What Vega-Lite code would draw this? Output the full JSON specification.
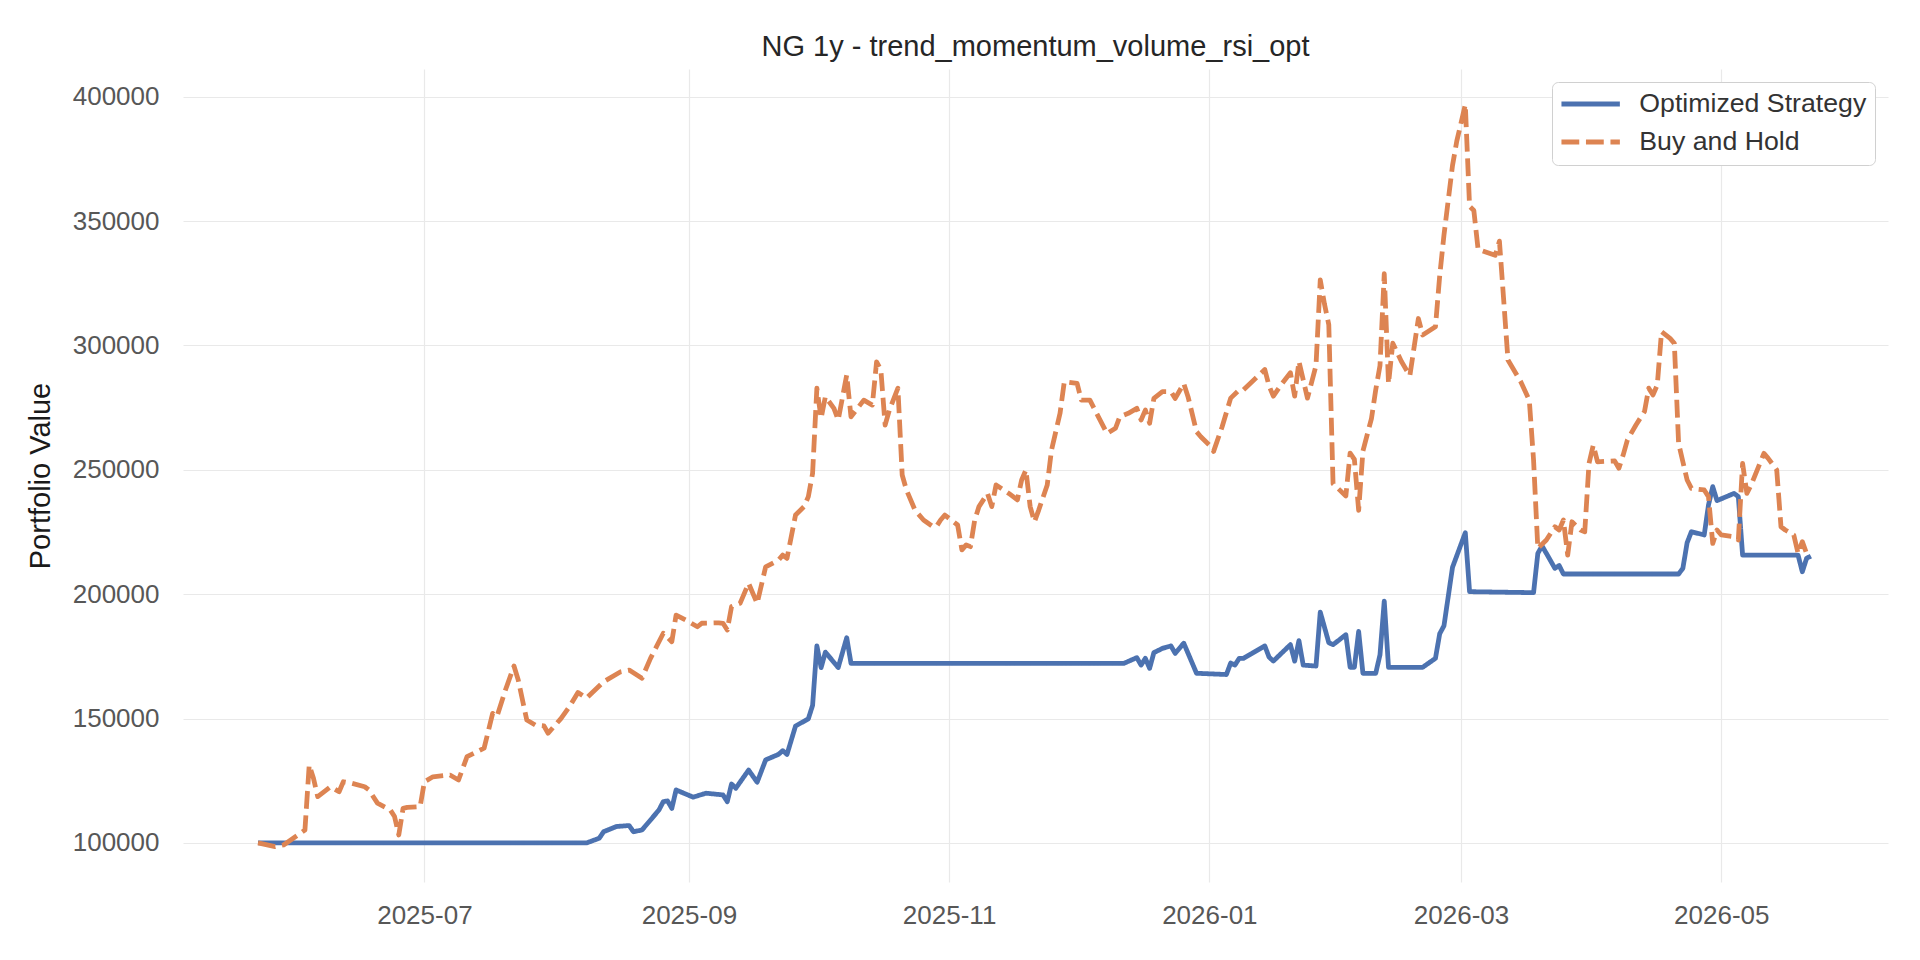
{
  "$schema": "https://vega.github.io/schema/vega-lite/v6.json",
  "description": "Portfolio value of the optimized strategy against buy and hold, NG 1y.",
  "autosize": {"type": "none"},
  "width": 1705,
  "height": 813,
  "padding": {"left": 183, "top": 69, "right": 32, "bottom": 78},
  "background": "#ffffff",
  "title": {
    "text": "NG 1y - trend_momentum_volume_rsi_opt",
    "font": "Liberation Sans",
    "fontSize": 29,
    "fontWeight": "normal",
    "color": "#262626",
    "anchor": "middle",
    "frame": "group",
    "baseline": "alphabetic",
    "offset": 16,
    "dy": 32
  },
  "data": {
    "values": [
      {"date": "2025-05-23", "series": "Optimized Strategy", "value": 100000},
      {"date": "2025-08-08", "series": "Optimized Strategy", "value": 100000},
      {"date": "2025-08-11", "series": "Optimized Strategy", "value": 101900},
      {"date": "2025-08-12", "series": "Optimized Strategy", "value": 104500},
      {"date": "2025-08-15", "series": "Optimized Strategy", "value": 106600},
      {"date": "2025-08-18", "series": "Optimized Strategy", "value": 107000},
      {"date": "2025-08-19", "series": "Optimized Strategy", "value": 104500},
      {"date": "2025-08-21", "series": "Optimized Strategy", "value": 105200},
      {"date": "2025-08-23", "series": "Optimized Strategy", "value": 109200},
      {"date": "2025-08-25", "series": "Optimized Strategy", "value": 113300},
      {"date": "2025-08-26", "series": "Optimized Strategy", "value": 116600},
      {"date": "2025-08-27", "series": "Optimized Strategy", "value": 116900},
      {"date": "2025-08-28", "series": "Optimized Strategy", "value": 113900},
      {"date": "2025-08-29", "series": "Optimized Strategy", "value": 121300},
      {"date": "2025-09-02", "series": "Optimized Strategy", "value": 118400},
      {"date": "2025-09-05", "series": "Optimized Strategy", "value": 120000},
      {"date": "2025-09-09", "series": "Optimized Strategy", "value": 119300},
      {"date": "2025-09-10", "series": "Optimized Strategy", "value": 116600},
      {"date": "2025-09-11", "series": "Optimized Strategy", "value": 123700},
      {"date": "2025-09-12", "series": "Optimized Strategy", "value": 122000},
      {"date": "2025-09-15", "series": "Optimized Strategy", "value": 129300},
      {"date": "2025-09-17", "series": "Optimized Strategy", "value": 124400},
      {"date": "2025-09-19", "series": "Optimized Strategy", "value": 133400},
      {"date": "2025-09-22", "series": "Optimized Strategy", "value": 135600},
      {"date": "2025-09-23", "series": "Optimized Strategy", "value": 137100},
      {"date": "2025-09-24", "series": "Optimized Strategy", "value": 135600},
      {"date": "2025-09-26", "series": "Optimized Strategy", "value": 147000},
      {"date": "2025-09-29", "series": "Optimized Strategy", "value": 149900},
      {"date": "2025-09-30", "series": "Optimized Strategy", "value": 155300},
      {"date": "2025-10-01", "series": "Optimized Strategy", "value": 179200},
      {"date": "2025-10-02", "series": "Optimized Strategy", "value": 170500},
      {"date": "2025-10-03", "series": "Optimized Strategy", "value": 176700},
      {"date": "2025-10-06", "series": "Optimized Strategy", "value": 170500},
      {"date": "2025-10-08", "series": "Optimized Strategy", "value": 182500},
      {"date": "2025-10-09", "series": "Optimized Strategy", "value": 172200},
      {"date": "2025-12-12", "series": "Optimized Strategy", "value": 172200},
      {"date": "2025-12-15", "series": "Optimized Strategy", "value": 174500},
      {"date": "2025-12-16", "series": "Optimized Strategy", "value": 171500},
      {"date": "2025-12-17", "series": "Optimized Strategy", "value": 174200},
      {"date": "2025-12-18", "series": "Optimized Strategy", "value": 170200},
      {"date": "2025-12-19", "series": "Optimized Strategy", "value": 176500},
      {"date": "2025-12-21", "series": "Optimized Strategy", "value": 178200},
      {"date": "2025-12-23", "series": "Optimized Strategy", "value": 179200},
      {"date": "2025-12-24", "series": "Optimized Strategy", "value": 176200},
      {"date": "2025-12-26", "series": "Optimized Strategy", "value": 180300},
      {"date": "2025-12-29", "series": "Optimized Strategy", "value": 168200},
      {"date": "2026-01-05", "series": "Optimized Strategy", "value": 167700},
      {"date": "2026-01-06", "series": "Optimized Strategy", "value": 172300},
      {"date": "2026-01-07", "series": "Optimized Strategy", "value": 171500},
      {"date": "2026-01-08", "series": "Optimized Strategy", "value": 174200},
      {"date": "2026-01-09", "series": "Optimized Strategy", "value": 174200},
      {"date": "2026-01-14", "series": "Optimized Strategy", "value": 179200},
      {"date": "2026-01-15", "series": "Optimized Strategy", "value": 174700},
      {"date": "2026-01-16", "series": "Optimized Strategy", "value": 173100},
      {"date": "2026-01-20", "series": "Optimized Strategy", "value": 179700},
      {"date": "2026-01-21", "series": "Optimized Strategy", "value": 173100},
      {"date": "2026-01-22", "series": "Optimized Strategy", "value": 181300},
      {"date": "2026-01-23", "series": "Optimized Strategy", "value": 171500},
      {"date": "2026-01-26", "series": "Optimized Strategy", "value": 171100},
      {"date": "2026-01-27", "series": "Optimized Strategy", "value": 192800},
      {"date": "2026-01-29", "series": "Optimized Strategy", "value": 180500},
      {"date": "2026-01-30", "series": "Optimized Strategy", "value": 179700},
      {"date": "2026-02-02", "series": "Optimized Strategy", "value": 183700},
      {"date": "2026-02-03", "series": "Optimized Strategy", "value": 170600},
      {"date": "2026-02-04", "series": "Optimized Strategy", "value": 170600},
      {"date": "2026-02-05", "series": "Optimized Strategy", "value": 185000},
      {"date": "2026-02-06", "series": "Optimized Strategy", "value": 168200},
      {"date": "2026-02-09", "series": "Optimized Strategy", "value": 168200},
      {"date": "2026-02-10", "series": "Optimized Strategy", "value": 175600},
      {"date": "2026-02-11", "series": "Optimized Strategy", "value": 197200},
      {"date": "2026-02-12", "series": "Optimized Strategy", "value": 170600},
      {"date": "2026-02-20", "series": "Optimized Strategy", "value": 170600},
      {"date": "2026-02-23", "series": "Optimized Strategy", "value": 174200},
      {"date": "2026-02-24", "series": "Optimized Strategy", "value": 184100},
      {"date": "2026-02-25", "series": "Optimized Strategy", "value": 187300},
      {"date": "2026-02-27", "series": "Optimized Strategy", "value": 210800},
      {"date": "2026-03-02", "series": "Optimized Strategy", "value": 224700},
      {"date": "2026-03-03", "series": "Optimized Strategy", "value": 201000},
      {"date": "2026-03-18", "series": "Optimized Strategy", "value": 200600},
      {"date": "2026-03-19", "series": "Optimized Strategy", "value": 216400},
      {"date": "2026-03-20", "series": "Optimized Strategy", "value": 219400},
      {"date": "2026-03-23", "series": "Optimized Strategy", "value": 210400},
      {"date": "2026-03-24", "series": "Optimized Strategy", "value": 211500},
      {"date": "2026-03-25", "series": "Optimized Strategy", "value": 208100},
      {"date": "2026-04-21", "series": "Optimized Strategy", "value": 208100},
      {"date": "2026-04-22", "series": "Optimized Strategy", "value": 210400},
      {"date": "2026-04-23", "series": "Optimized Strategy", "value": 220700},
      {"date": "2026-04-24", "series": "Optimized Strategy", "value": 225100},
      {"date": "2026-04-27", "series": "Optimized Strategy", "value": 223800},
      {"date": "2026-04-28", "series": "Optimized Strategy", "value": 235800},
      {"date": "2026-04-29", "series": "Optimized Strategy", "value": 243200},
      {"date": "2026-04-30", "series": "Optimized Strategy", "value": 237600},
      {"date": "2026-05-04", "series": "Optimized Strategy", "value": 240500},
      {"date": "2026-05-05", "series": "Optimized Strategy", "value": 239200},
      {"date": "2026-05-06", "series": "Optimized Strategy", "value": 215700},
      {"date": "2026-05-19", "series": "Optimized Strategy", "value": 215700},
      {"date": "2026-05-20", "series": "Optimized Strategy", "value": 209000},
      {"date": "2026-05-21", "series": "Optimized Strategy", "value": 214400},
      {"date": "2026-05-22", "series": "Optimized Strategy", "value": 215300},
      {"date": "2025-05-23", "series": "Buy and Hold", "value": 100000},
      {"date": "2025-05-27", "series": "Buy and Hold", "value": 98500},
      {"date": "2025-05-29", "series": "Buy and Hold", "value": 99200},
      {"date": "2025-06-03", "series": "Buy and Hold", "value": 105200},
      {"date": "2025-06-04", "series": "Buy and Hold", "value": 131300},
      {"date": "2025-06-05", "series": "Buy and Hold", "value": 126000},
      {"date": "2025-06-06", "series": "Buy and Hold", "value": 118600},
      {"date": "2025-06-09", "series": "Buy and Hold", "value": 122600},
      {"date": "2025-06-11", "series": "Buy and Hold", "value": 120600},
      {"date": "2025-06-12", "series": "Buy and Hold", "value": 124600},
      {"date": "2025-06-14", "series": "Buy and Hold", "value": 124000},
      {"date": "2025-06-17", "series": "Buy and Hold", "value": 122600},
      {"date": "2025-06-18", "series": "Buy and Hold", "value": 121300},
      {"date": "2025-06-20", "series": "Buy and Hold", "value": 116000},
      {"date": "2025-06-23", "series": "Buy and Hold", "value": 113300},
      {"date": "2025-06-24", "series": "Buy and Hold", "value": 110600},
      {"date": "2025-06-25", "series": "Buy and Hold", "value": 103200},
      {"date": "2025-06-26", "series": "Buy and Hold", "value": 113900},
      {"date": "2025-06-27", "series": "Buy and Hold", "value": 114300},
      {"date": "2025-06-30", "series": "Buy and Hold", "value": 114600},
      {"date": "2025-07-01", "series": "Buy and Hold", "value": 124600},
      {"date": "2025-07-03", "series": "Buy and Hold", "value": 126600},
      {"date": "2025-07-07", "series": "Buy and Hold", "value": 127300},
      {"date": "2025-07-09", "series": "Buy and Hold", "value": 125300},
      {"date": "2025-07-11", "series": "Buy and Hold", "value": 134700},
      {"date": "2025-07-15", "series": "Buy and Hold", "value": 138100},
      {"date": "2025-07-17", "series": "Buy and Hold", "value": 152100},
      {"date": "2025-07-18", "series": "Buy and Hold", "value": 150800},
      {"date": "2025-07-20", "series": "Buy and Hold", "value": 161500},
      {"date": "2025-07-22", "series": "Buy and Hold", "value": 171100},
      {"date": "2025-07-23", "series": "Buy and Hold", "value": 165500},
      {"date": "2025-07-25", "series": "Buy and Hold", "value": 149400},
      {"date": "2025-07-27", "series": "Buy and Hold", "value": 147400},
      {"date": "2025-07-29", "series": "Buy and Hold", "value": 147100},
      {"date": "2025-07-30", "series": "Buy and Hold", "value": 144100},
      {"date": "2025-08-02", "series": "Buy and Hold", "value": 150000},
      {"date": "2025-08-04", "series": "Buy and Hold", "value": 154800},
      {"date": "2025-08-06", "series": "Buy and Hold", "value": 160500},
      {"date": "2025-08-08", "series": "Buy and Hold", "value": 158200},
      {"date": "2025-08-12", "series": "Buy and Hold", "value": 164800},
      {"date": "2025-08-16", "series": "Buy and Hold", "value": 168800},
      {"date": "2025-08-18", "series": "Buy and Hold", "value": 169500},
      {"date": "2025-08-21", "series": "Buy and Hold", "value": 166200},
      {"date": "2025-08-23", "series": "Buy and Hold", "value": 174200},
      {"date": "2025-08-26", "series": "Buy and Hold", "value": 184300},
      {"date": "2025-08-28", "series": "Buy and Hold", "value": 180900},
      {"date": "2025-08-29", "series": "Buy and Hold", "value": 191600},
      {"date": "2025-09-01", "series": "Buy and Hold", "value": 188900},
      {"date": "2025-09-03", "series": "Buy and Hold", "value": 186900},
      {"date": "2025-09-04", "series": "Buy and Hold", "value": 188300},
      {"date": "2025-09-08", "series": "Buy and Hold", "value": 188500},
      {"date": "2025-09-09", "series": "Buy and Hold", "value": 188300},
      {"date": "2025-09-10", "series": "Buy and Hold", "value": 185600},
      {"date": "2025-09-11", "series": "Buy and Hold", "value": 195000},
      {"date": "2025-09-13", "series": "Buy and Hold", "value": 196300},
      {"date": "2025-09-15", "series": "Buy and Hold", "value": 204400},
      {"date": "2025-09-17", "series": "Buy and Hold", "value": 196300},
      {"date": "2025-09-19", "series": "Buy and Hold", "value": 211000},
      {"date": "2025-09-22", "series": "Buy and Hold", "value": 213700},
      {"date": "2025-09-23", "series": "Buy and Hold", "value": 215700},
      {"date": "2025-09-24", "series": "Buy and Hold", "value": 214400},
      {"date": "2025-09-26", "series": "Buy and Hold", "value": 231800},
      {"date": "2025-09-28", "series": "Buy and Hold", "value": 235200},
      {"date": "2025-09-29", "series": "Buy and Hold", "value": 239200},
      {"date": "2025-09-30", "series": "Buy and Hold", "value": 248600},
      {"date": "2025-10-01", "series": "Buy and Hold", "value": 282800},
      {"date": "2025-10-02", "series": "Buy and Hold", "value": 270700},
      {"date": "2025-10-03", "series": "Buy and Hold", "value": 279400},
      {"date": "2025-10-05", "series": "Buy and Hold", "value": 274700},
      {"date": "2025-10-06", "series": "Buy and Hold", "value": 270000},
      {"date": "2025-10-08", "series": "Buy and Hold", "value": 288100},
      {"date": "2025-10-09", "series": "Buy and Hold", "value": 271300},
      {"date": "2025-10-12", "series": "Buy and Hold", "value": 278000},
      {"date": "2025-10-14", "series": "Buy and Hold", "value": 276000},
      {"date": "2025-10-15", "series": "Buy and Hold", "value": 293400},
      {"date": "2025-10-16", "series": "Buy and Hold", "value": 290100},
      {"date": "2025-10-17", "series": "Buy and Hold", "value": 268000},
      {"date": "2025-10-18", "series": "Buy and Hold", "value": 274000},
      {"date": "2025-10-20", "series": "Buy and Hold", "value": 282800},
      {"date": "2025-10-21", "series": "Buy and Hold", "value": 247900},
      {"date": "2025-10-22", "series": "Buy and Hold", "value": 241900},
      {"date": "2025-10-24", "series": "Buy and Hold", "value": 233800},
      {"date": "2025-10-26", "series": "Buy and Hold", "value": 229800},
      {"date": "2025-10-28", "series": "Buy and Hold", "value": 227400},
      {"date": "2025-10-29", "series": "Buy and Hold", "value": 227100},
      {"date": "2025-10-30", "series": "Buy and Hold", "value": 229800},
      {"date": "2025-10-31", "series": "Buy and Hold", "value": 231800},
      {"date": "2025-11-03", "series": "Buy and Hold", "value": 227800},
      {"date": "2025-11-04", "series": "Buy and Hold", "value": 217800},
      {"date": "2025-11-05", "series": "Buy and Hold", "value": 219800},
      {"date": "2025-11-06", "series": "Buy and Hold", "value": 219100},
      {"date": "2025-11-07", "series": "Buy and Hold", "value": 229800},
      {"date": "2025-11-08", "series": "Buy and Hold", "value": 235200},
      {"date": "2025-11-10", "series": "Buy and Hold", "value": 240500},
      {"date": "2025-11-11", "series": "Buy and Hold", "value": 235200},
      {"date": "2025-11-12", "series": "Buy and Hold", "value": 243900},
      {"date": "2025-11-15", "series": "Buy and Hold", "value": 240500},
      {"date": "2025-11-17", "series": "Buy and Hold", "value": 237900},
      {"date": "2025-11-18", "series": "Buy and Hold", "value": 245900},
      {"date": "2025-11-19", "series": "Buy and Hold", "value": 249900},
      {"date": "2025-11-20", "series": "Buy and Hold", "value": 235200},
      {"date": "2025-11-21", "series": "Buy and Hold", "value": 229100},
      {"date": "2025-11-22", "series": "Buy and Hold", "value": 233800},
      {"date": "2025-11-24", "series": "Buy and Hold", "value": 243900},
      {"date": "2025-11-25", "series": "Buy and Hold", "value": 257900},
      {"date": "2025-11-27", "series": "Buy and Hold", "value": 272700},
      {"date": "2025-11-28", "series": "Buy and Hold", "value": 285400},
      {"date": "2025-12-01", "series": "Buy and Hold", "value": 284700},
      {"date": "2025-12-02", "series": "Buy and Hold", "value": 278000},
      {"date": "2025-12-04", "series": "Buy and Hold", "value": 278000},
      {"date": "2025-12-06", "series": "Buy and Hold", "value": 271300},
      {"date": "2025-12-08", "series": "Buy and Hold", "value": 264600},
      {"date": "2025-12-10", "series": "Buy and Hold", "value": 266700},
      {"date": "2025-12-11", "series": "Buy and Hold", "value": 271300},
      {"date": "2025-12-13", "series": "Buy and Hold", "value": 272700},
      {"date": "2025-12-15", "series": "Buy and Hold", "value": 274700},
      {"date": "2025-12-16", "series": "Buy and Hold", "value": 270000},
      {"date": "2025-12-17", "series": "Buy and Hold", "value": 274000},
      {"date": "2025-12-18", "series": "Buy and Hold", "value": 268700},
      {"date": "2025-12-19", "series": "Buy and Hold", "value": 278700},
      {"date": "2025-12-21", "series": "Buy and Hold", "value": 281400},
      {"date": "2025-12-23", "series": "Buy and Hold", "value": 281400},
      {"date": "2025-12-24", "series": "Buy and Hold", "value": 278700},
      {"date": "2025-12-26", "series": "Buy and Hold", "value": 284700},
      {"date": "2025-12-27", "series": "Buy and Hold", "value": 279400},
      {"date": "2025-12-29", "series": "Buy and Hold", "value": 265300},
      {"date": "2025-12-30", "series": "Buy and Hold", "value": 263300},
      {"date": "2026-01-01", "series": "Buy and Hold", "value": 259900},
      {"date": "2026-01-02", "series": "Buy and Hold", "value": 257400},
      {"date": "2026-01-04", "series": "Buy and Hold", "value": 267300},
      {"date": "2026-01-06", "series": "Buy and Hold", "value": 278800},
      {"date": "2026-01-08", "series": "Buy and Hold", "value": 282100},
      {"date": "2026-01-09", "series": "Buy and Hold", "value": 282100},
      {"date": "2026-01-11", "series": "Buy and Hold", "value": 285400},
      {"date": "2026-01-14", "series": "Buy and Hold", "value": 290300},
      {"date": "2026-01-15", "series": "Buy and Hold", "value": 283700},
      {"date": "2026-01-16", "series": "Buy and Hold", "value": 279600},
      {"date": "2026-01-18", "series": "Buy and Hold", "value": 284600},
      {"date": "2026-01-20", "series": "Buy and Hold", "value": 289000},
      {"date": "2026-01-21", "series": "Buy and Hold", "value": 279600},
      {"date": "2026-01-22", "series": "Buy and Hold", "value": 293600},
      {"date": "2026-01-24", "series": "Buy and Hold", "value": 278800},
      {"date": "2026-01-26", "series": "Buy and Hold", "value": 291900},
      {"date": "2026-01-27", "series": "Buy and Hold", "value": 326300},
      {"date": "2026-01-28", "series": "Buy and Hold", "value": 316500},
      {"date": "2026-01-29", "series": "Buy and Hold", "value": 308300},
      {"date": "2026-01-30", "series": "Buy and Hold", "value": 244400},
      {"date": "2026-02-02", "series": "Buy and Hold", "value": 239500},
      {"date": "2026-02-03", "series": "Buy and Hold", "value": 256700},
      {"date": "2026-02-04", "series": "Buy and Hold", "value": 254200},
      {"date": "2026-02-05", "series": "Buy and Hold", "value": 233700},
      {"date": "2026-02-06", "series": "Buy and Hold", "value": 257500},
      {"date": "2026-02-08", "series": "Buy and Hold", "value": 270600},
      {"date": "2026-02-09", "series": "Buy and Hold", "value": 282100},
      {"date": "2026-02-10", "series": "Buy and Hold", "value": 291900},
      {"date": "2026-02-11", "series": "Buy and Hold", "value": 328800},
      {"date": "2026-02-12", "series": "Buy and Hold", "value": 284600},
      {"date": "2026-02-13", "series": "Buy and Hold", "value": 300900},
      {"date": "2026-02-15", "series": "Buy and Hold", "value": 293600},
      {"date": "2026-02-17", "series": "Buy and Hold", "value": 287800},
      {"date": "2026-02-19", "series": "Buy and Hold", "value": 310800},
      {"date": "2026-02-20", "series": "Buy and Hold", "value": 304200},
      {"date": "2026-02-23", "series": "Buy and Hold", "value": 307500},
      {"date": "2026-02-24", "series": "Buy and Hold", "value": 328000},
      {"date": "2026-02-25", "series": "Buy and Hold", "value": 344400},
      {"date": "2026-02-27", "series": "Buy and Hold", "value": 372300},
      {"date": "2026-02-28", "series": "Buy and Hold", "value": 382100},
      {"date": "2026-03-02", "series": "Buy and Hold", "value": 396800},
      {"date": "2026-03-03", "series": "Buy and Hold", "value": 355900},
      {"date": "2026-03-04", "series": "Buy and Hold", "value": 354200},
      {"date": "2026-03-05", "series": "Buy and Hold", "value": 338600},
      {"date": "2026-03-09", "series": "Buy and Hold", "value": 336200},
      {"date": "2026-03-10", "series": "Buy and Hold", "value": 341900},
      {"date": "2026-03-11", "series": "Buy and Hold", "value": 318200},
      {"date": "2026-03-12", "series": "Buy and Hold", "value": 294100},
      {"date": "2026-03-15", "series": "Buy and Hold", "value": 285400},
      {"date": "2026-03-17", "series": "Buy and Hold", "value": 278000},
      {"date": "2026-03-18", "series": "Buy and Hold", "value": 253900},
      {"date": "2026-03-19", "series": "Buy and Hold", "value": 218400},
      {"date": "2026-03-21", "series": "Buy and Hold", "value": 221800},
      {"date": "2026-03-23", "series": "Buy and Hold", "value": 227100},
      {"date": "2026-03-24", "series": "Buy and Hold", "value": 225800},
      {"date": "2026-03-25", "series": "Buy and Hold", "value": 229800},
      {"date": "2026-03-26", "series": "Buy and Hold", "value": 215700},
      {"date": "2026-03-27", "series": "Buy and Hold", "value": 229100},
      {"date": "2026-03-29", "series": "Buy and Hold", "value": 225800},
      {"date": "2026-03-30", "series": "Buy and Hold", "value": 225100},
      {"date": "2026-03-31", "series": "Buy and Hold", "value": 252600},
      {"date": "2026-04-01", "series": "Buy and Hold", "value": 259900},
      {"date": "2026-04-02", "series": "Buy and Hold", "value": 253200},
      {"date": "2026-04-06", "series": "Buy and Hold", "value": 253600},
      {"date": "2026-04-07", "series": "Buy and Hold", "value": 250600},
      {"date": "2026-04-08", "series": "Buy and Hold", "value": 255900},
      {"date": "2026-04-09", "series": "Buy and Hold", "value": 262000},
      {"date": "2026-04-11", "series": "Buy and Hold", "value": 268000},
      {"date": "2026-04-13", "series": "Buy and Hold", "value": 273400},
      {"date": "2026-04-14", "series": "Buy and Hold", "value": 282800},
      {"date": "2026-04-15", "series": "Buy and Hold", "value": 280100},
      {"date": "2026-04-16", "series": "Buy and Hold", "value": 284100},
      {"date": "2026-04-17", "series": "Buy and Hold", "value": 305500},
      {"date": "2026-04-19", "series": "Buy and Hold", "value": 302800},
      {"date": "2026-04-20", "series": "Buy and Hold", "value": 300800},
      {"date": "2026-04-21", "series": "Buy and Hold", "value": 260600},
      {"date": "2026-04-23", "series": "Buy and Hold", "value": 245900},
      {"date": "2026-04-24", "series": "Buy and Hold", "value": 242500},
      {"date": "2026-04-27", "series": "Buy and Hold", "value": 241900},
      {"date": "2026-04-28", "series": "Buy and Hold", "value": 239200},
      {"date": "2026-04-29", "series": "Buy and Hold", "value": 220400},
      {"date": "2026-04-30", "series": "Buy and Hold", "value": 225800},
      {"date": "2026-05-01", "series": "Buy and Hold", "value": 223800},
      {"date": "2026-05-04", "series": "Buy and Hold", "value": 223100},
      {"date": "2026-05-05", "series": "Buy and Hold", "value": 221800},
      {"date": "2026-05-06", "series": "Buy and Hold", "value": 252600},
      {"date": "2026-05-07", "series": "Buy and Hold", "value": 240500},
      {"date": "2026-05-08", "series": "Buy and Hold", "value": 243900},
      {"date": "2026-05-11", "series": "Buy and Hold", "value": 256600},
      {"date": "2026-05-12", "series": "Buy and Hold", "value": 254600},
      {"date": "2026-05-14", "series": "Buy and Hold", "value": 249900},
      {"date": "2026-05-15", "series": "Buy and Hold", "value": 227100},
      {"date": "2026-05-16", "series": "Buy and Hold", "value": 225800},
      {"date": "2026-05-18", "series": "Buy and Hold", "value": 223800},
      {"date": "2026-05-19", "series": "Buy and Hold", "value": 216400},
      {"date": "2026-05-20", "series": "Buy and Hold", "value": 221100},
      {"date": "2026-05-21", "series": "Buy and Hold", "value": 216400},
      {"date": "2026-05-22", "series": "Buy and Hold", "value": 215700}
    ]
  },
  "mark": {"type": "line", "strokeWidth": 4.8, "strokeJoin": "round", "strokeCap": "butt"},
  "encoding": {
    "x": {
      "field": "date",
      "type": "temporal",
      "scale": {
        "type": "utc",
        "domain": [
          {"year": 2025, "month": 5, "date": 5, "hours": 10, "utc": true},
          {"year": 2026, "month": 6, "date": 9, "hours": 2, "utc": true}
        ]
      },
      "axis": {
        "title": null,
        "labelExpr": "utcFormat(datum.value, '%Y-%m')",
        "tickCount": {"interval": "month", "step": 2},
        "labelPadding": 20,
        "labelFlush": false,
        "labelOverlap": false
      }
    },
    "y": {
      "field": "value",
      "type": "quantitative",
      "scale": {"domain": [84300, 411100], "nice": false, "zero": false},
      "axis": {
        "title": "Portfolio Value",
        "values": [100000, 150000, 200000, 250000, 300000, 350000, 400000],
        "format": "d",
        "labelPadding": 24,
        "titlePadding": 17
      }
    },
    "color": {
      "field": "series",
      "type": "nominal",
      "sort": ["Optimized Strategy", "Buy and Hold"],
      "scale": {"domain": ["Optimized Strategy", "Buy and Hold"], "range": ["#4c72b0", "#dd8452"]},
      "legend": {"title": null}
    },
    "strokeDash": {
      "field": "series",
      "type": "nominal",
      "sort": ["Optimized Strategy", "Buy and Hold"],
      "scale": {"domain": ["Optimized Strategy", "Buy and Hold"], "range": [[1, 0], [17.8, 6.7]]},
      "legend": {"title": null}
    }
  },
  "config": {
    "view": {"stroke": null},
    "axis": {
      "domain": false,
      "ticks": false,
      "tickSize": 0,
      "grid": true,
      "gridColor": "#e9e9e9",
      "gridWidth": 1.2,
      "labelFont": "Liberation Sans",
      "labelFontSize": 26,
      "labelColor": "#575757",
      "titleFont": "Liberation Sans",
      "titleFontSize": 29,
      "titleFontWeight": "normal",
      "titleColor": "#1a1a1a"
    },
    "legend": {
      "orient": "top-right",
      "offset": 13,
      "labelFont": "Liberation Sans",
      "labelFontSize": 26.7,
      "labelColor": "#333333",
      "labelLimit": 400,
      "symbolType": "M-1.14,0H4.17",
      "symbolSize": 484,
      "symbolStrokeWidth": 4.8,
      "labelOffset": 51.8,
      "padding": 8.5,
      "rowPadding": 10,
      "fillColor": "#ffffff",
      "strokeColor": "#d0d0d0",
      "cornerRadius": 6
    }
  }
}
